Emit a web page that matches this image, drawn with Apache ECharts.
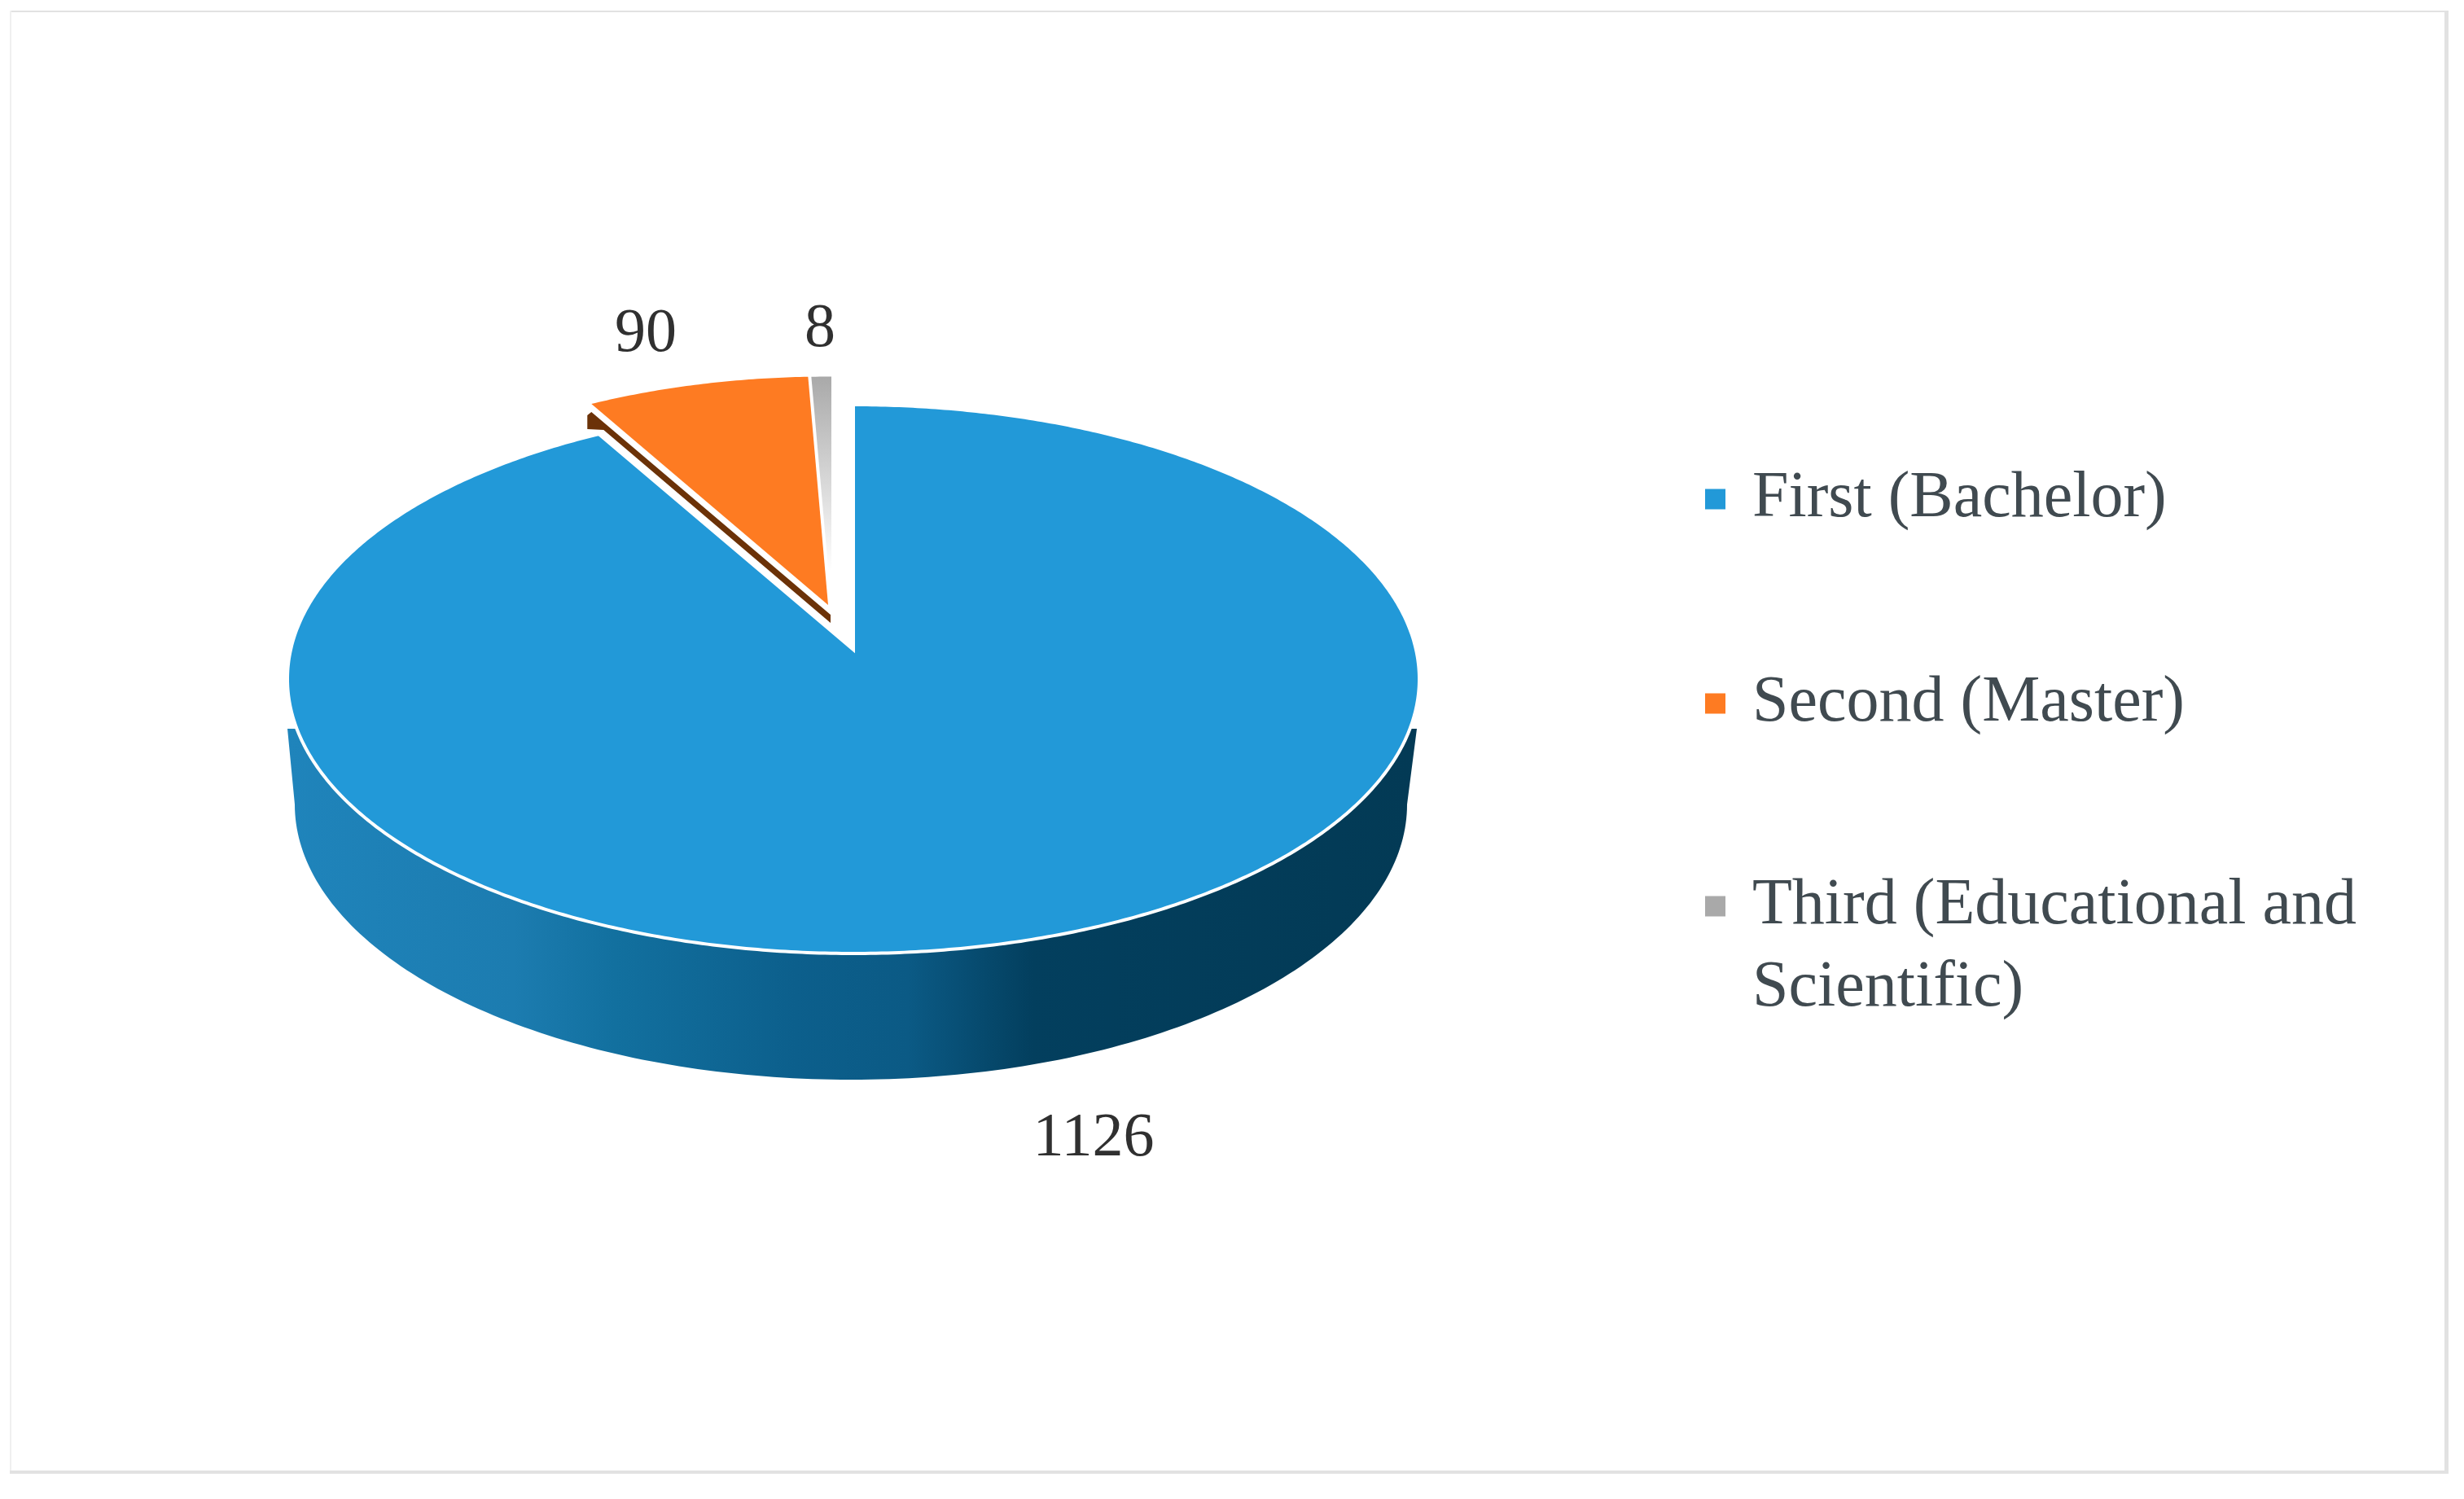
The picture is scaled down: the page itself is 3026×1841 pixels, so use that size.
<!DOCTYPE html>
<html>
<head>
<meta charset="utf-8">
<title>Degree levels</title>
<script src="https://cdn.jsdelivr.net/npm/echarts@6/dist/echarts.min.js"></script>
<style>
  html, body { margin: 0; background: #fff; }
  #chart { width: 3026px; height: 1841px; }
</style>
</head>
<body>
<div id="chart"></div>
<script>
const categories = ['First (Bachelor)', 'Second (Master)', 'Third (Educational and Scientific)'];
const legendLabels = ['First (Bachelor)', 'Second (Master)', '\nThird (Educational and\nScientific)'];
const values = [1126, 90, 8];
const colors = ['#2299d8', '#fe7b22', '#a9a9a9'];

// each slice is pulled out of the pie, so it has its own apex and rim size
const sliceShapes = [
  {apex: [1048, 798], a: 695, b: 337, lift: 36, z: 3, stroke: 4},
  {apex: [1017, 743], a: 646, b: 314, lift: 33.5, z: 2, stroke: 0},
  {apex: [1021, 743], a: 646, b: 314, lift: 33.5, z: 2, stroke: 0}
];
const labelPos = [[1343, 1399], [793, 411], [1007, 405]];
const legendCenters = [613, 864, 1113];
const legendLine = 101;
const fontFamily = '"Liberation Serif", serif';

const total = values.reduce((s, v) => s + v, 0);

// cast a ray from the apex, in circle space, out to the slice's rim
// the 1.04 widens the angles a little, like the 3D view in the original
function rimPoint(deg, g) {
  const th = deg * Math.PI / 180;
  const len = Math.hypot(Math.sin(th) * 1.04, Math.cos(th));
  const dx = Math.sin(th) * 1.04 / len, dy = Math.cos(th) / len;
  const py = g.lift / g.b;
  const pd = py * dy;
  const s = -pd + Math.sqrt(pd * pd + 1 - py * py);
  return [g.apex[0] + g.a * s * dx, g.apex[1] + g.lift - g.b * (py + s * dy)];
}

function sliceTop(startDeg, endDeg, g) {
  const pts = [g.apex];
  for (let d = startDeg; d < endDeg; d += 0.5) pts.push(rimPoint(d, g));
  pts.push(rimPoint(endDeg, g));
  return pts;
}

// side of the big slice: front half of the lower rim, closed up under the top
function blueWall() {
  const pts = [[353, 895]];
  for (let d = -90; d <= 90; d += 1) {
    const t = d * Math.PI / 180;
    pts.push([1045 + 683 * Math.sin(t), 988 + 338 * Math.cos(t)]);
  }
  pts.push([1740, 895]);
  return pts;
}

// dark side of the orange slice, only a thin strip shows
function orangeWall(tip, apex) {
  return [
    [tip[0], tip[1] + 10], [apex[0] + 3, apex[1] + 12], [apex[0] + 3, apex[1] + 22],
    [tip[0] + 15, tip[1] + 32], [tip[0] - 5, tip[1] + 31], [tip[0] - 5, tip[1] + 14]
  ];
}

const wallFill = {
  type: 'linear', x: 0, y: 0, x2: 1, y2: 0,
  colorStops: [
    {offset: 0, color: '#1f84bb'},
    {offset: 0.2, color: '#1c7cb0'},
    {offset: 0.29, color: '#12709f'},
    {offset: 0.45, color: '#0c5f8c'},
    {offset: 0.55, color: '#0b5a85'},
    {offset: 0.66, color: '#033f5e'},
    {offset: 1, color: '#033a55'}
  ]
};

function sliceRange(i) {
  const before = values.slice(0, i).reduce((s, v) => s + v, 0);
  return [before / total * 360, (before + values[i]) / total * 360];
}

function renderSlice(i) {
  return function (params, api) {
    const g = sliceShapes[i];
    const range = sliceRange(i);
    const top = sliceTop(range[0], range[1], g);
    const children = [];
    if (i === 0) {
      children.push({type: 'polygon', shape: {points: blueWall()}, style: {fill: wallFill}});
    }
    if (i === 1) {
      children.push({
        type: 'polygon',
        shape: {points: orangeWall(rimPoint(range[0], g), g.apex)},
        style: {fill: '#6b3208'}
      });
    }
    children.push({
      type: 'polygon',
      shape: {points: top},
      style: {
        fill: i === 2
          ? {type: 'linear', x: 0, y: 0, x2: 0, y2: 1, colorStops: [
              {offset: 0, color: colors[2]}, {offset: 0.85, color: '#ffffff'}]}
          : colors[i],
        stroke: g.stroke ? '#ffffff' : null,
        lineWidth: g.stroke
      }
    });
    children.push({
      type: 'text',
      style: {
        text: String(api.value(0)),
        x: labelPos[i][0], y: labelPos[i][1],
        align: 'center', verticalAlign: 'middle',
        fontFamily: fontFamily, fontSize: 76, fill: '#303030'
      }
    });
    return {type: 'group', children: children};
  };
}

const chart = echarts.init(document.getElementById('chart'));
chart.setOption({
  animation: false,
  backgroundColor: '#ffffff',
  legend: categories.map((name, i) => ({
    data: [name],
    orient: 'vertical',
    selectedMode: false,
    left: 2094,
    top: legendCenters[i] - legendLine * (i === 2 ? 1.5 : 0.5),
    padding: 0,
    itemWidth: 25,
    itemHeight: 25,
    icon: 'rect',
    formatter: () => legendLabels[i],
    textStyle: {
      fontFamily: fontFamily, fontSize: 80, color: '#404a50',
      lineHeight: legendLine, padding: [0, 0, 0, 28]
    }
  })),
  graphic: [
    {type: 'rect', shape: {x: 12, y: 13, width: 2994, height: 2}, style: {fill: '#e2e2e2'}},
    {type: 'rect', shape: {x: 12, y: 13, width: 2, height: 1797}, style: {fill: '#f0f0f0'}},
    {type: 'rect', shape: {x: 3002, y: 13, width: 5, height: 1797}, style: {fill: '#e2e2e2'}},
    {type: 'rect', shape: {x: 12, y: 1806, width: 2995, height: 4}, style: {fill: '#e2e2e2'}}
  ],
  series: categories.map((name, i) => ({
    type: 'custom',
    name: name,
    coordinateSystem: 'none',
    z: sliceShapes[i].z,
    silent: true,
    itemStyle: {color: colors[i]},
    data: [[values[i]]],
    renderItem: renderSlice(i)
  }))
});
</script>
</body>
</html>
